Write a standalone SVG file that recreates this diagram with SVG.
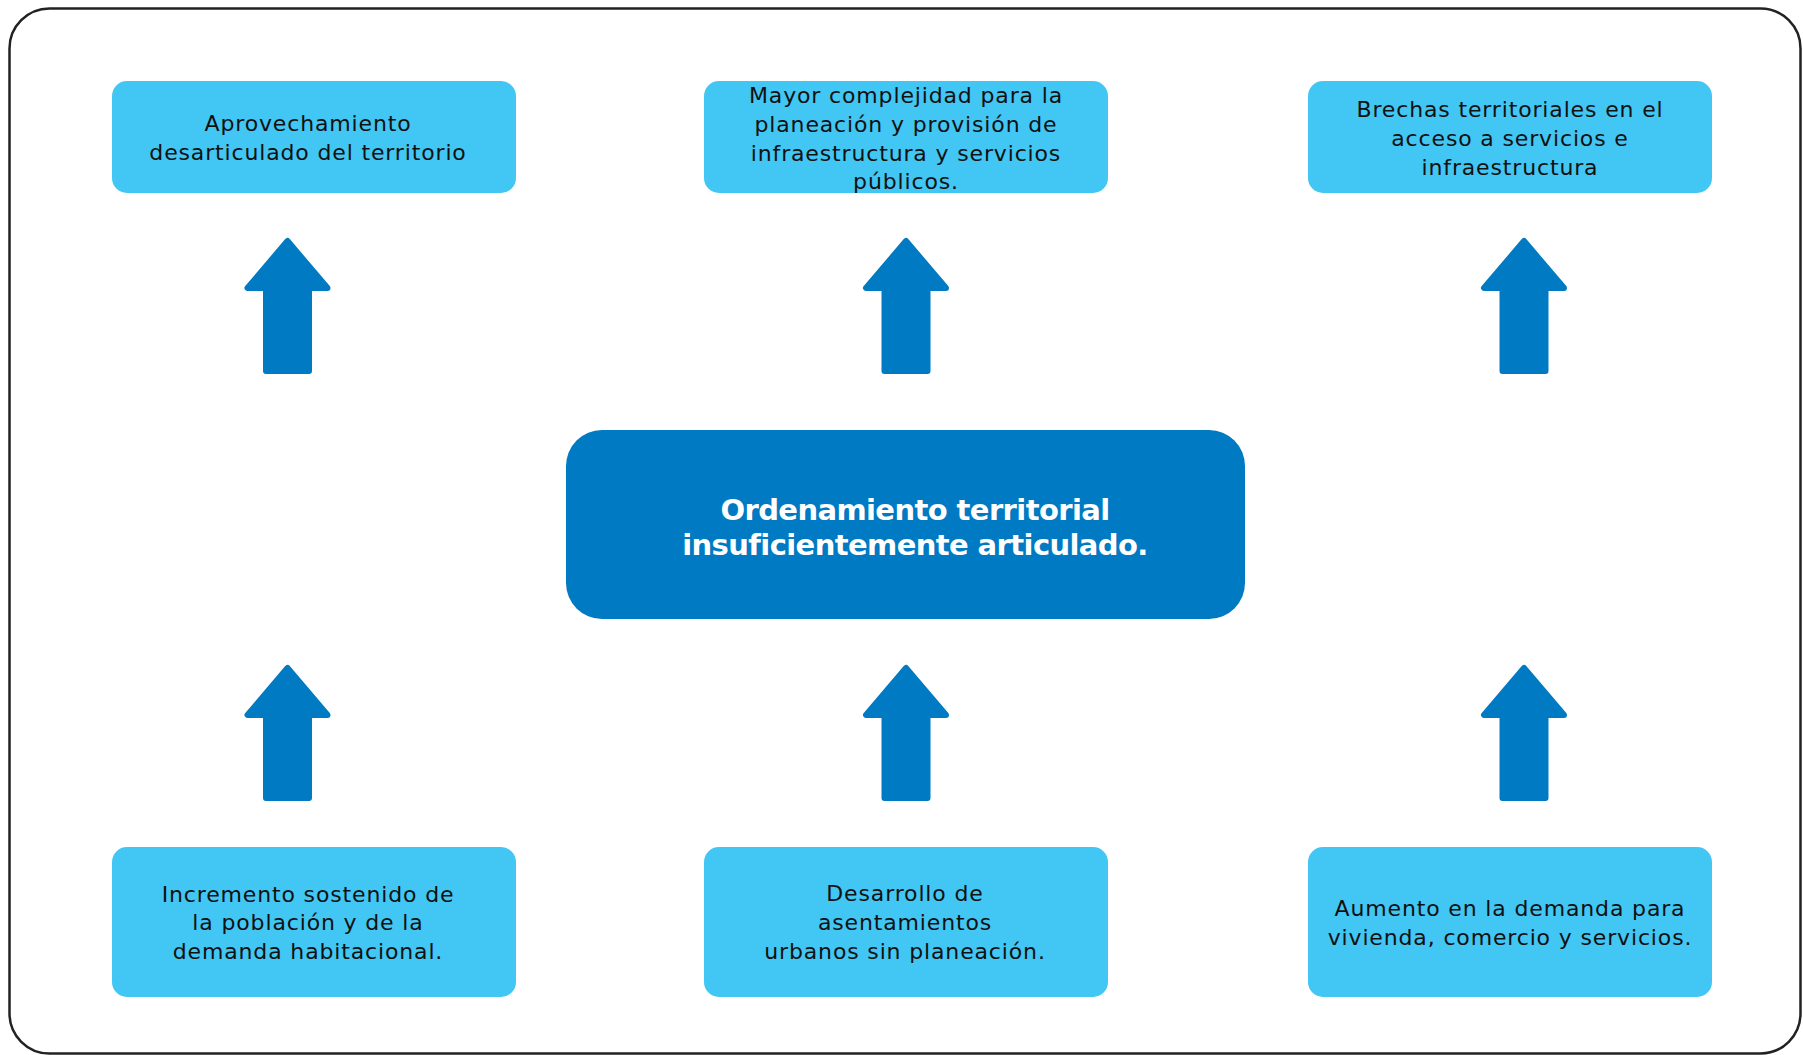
<svg xmlns="http://www.w3.org/2000/svg" xmlns:xlink="http://www.w3.org/1999/xlink" width="1803" height="1055" viewBox="0 0 1803 1055">
  <style>
    .box { fill: #42C6F3; }
    .core { fill: #007AC2; }
    .lbl { font-family: "DejaVu Sans", "Noto Sans", sans-serif; font-size: 22px; letter-spacing: 0.85px; fill: #111111; text-anchor: middle; }
    .title { font-family: "DejaVu Sans", "Noto Sans", sans-serif; font-size: 29px; font-weight: bold; letter-spacing: -0.6px; fill: #FFFFFF; text-anchor: middle; }
    .arr { fill: #007AC2; stroke: #007AC2; stroke-width: 6; stroke-linejoin: round; }
  </style>
  <defs>
    <path id="arrow" class="arr" d="M0,3 L-40,50 L-21.5,50 L-21.5,133 L21.5,133 L21.5,50 L40,50 Z"/>
  </defs>
  <rect x="0" y="0" width="1803" height="1055" fill="#FFFFFF"/>
  <rect id="frame" x="9.5" y="8.5" width="1791" height="1045" rx="40" ry="40" fill="none" stroke="#222222" stroke-width="2.5"/>

  <g id="connectors">
    <use xlink:href="#arrow" href="#arrow" transform="translate(287.5,238)"/>
    <use xlink:href="#arrow" href="#arrow" transform="translate(906,238)"/>
    <use xlink:href="#arrow" href="#arrow" transform="translate(1524,238)"/>
    <use xlink:href="#arrow" href="#arrow" transform="translate(287.5,665)"/>
    <use xlink:href="#arrow" href="#arrow" transform="translate(906,665)"/>
    <use xlink:href="#arrow" href="#arrow" transform="translate(1524,665)"/>
  </g>

  <g id="node-top-1">
    <rect class="box" x="112" y="81" width="404" height="112" rx="15"/>
    <text class="lbl" x="308" y="131">Aprovechamiento</text>
    <text class="lbl" x="308" y="160">desarticulado del territorio</text>
  </g>
  <g id="node-top-2">
    <rect class="box" x="704" y="81" width="404" height="112" rx="15"/>
    <text class="lbl" x="906" y="103">Mayor complejidad para la</text>
    <text class="lbl" x="906" y="132">planeación y provisión de</text>
    <text class="lbl" x="906" y="161">infraestructura y servicios</text>
    <text class="lbl" x="906" y="189">públicos.</text>
  </g>
  <g id="node-top-3">
    <rect class="box" x="1308" y="81" width="404" height="112" rx="15"/>
    <text class="lbl" x="1510" y="117">Brechas territoriales en el</text>
    <text class="lbl" x="1510" y="146">acceso a servicios e</text>
    <text class="lbl" x="1510" y="175">infraestructura</text>
  </g>

  <g id="node-center">
    <rect class="core" x="566" y="430" width="679" height="189" rx="36"/>
    <text class="title" x="915" y="520">Ordenamiento territorial</text>
    <text class="title" x="915" y="555">insuficientemente articulado.</text>
  </g>

  <g id="node-bottom-1">
    <rect class="box" x="112" y="847" width="404" height="150" rx="15"/>
    <text class="lbl" x="308" y="902">Incremento sostenido de</text>
    <text class="lbl" x="308" y="930">la población y de la</text>
    <text class="lbl" x="308" y="959">demanda habitacional.</text>
  </g>
  <g id="node-bottom-2">
    <rect class="box" x="704" y="847" width="404" height="150" rx="15"/>
    <text class="lbl" x="905" y="901">Desarrollo de</text>
    <text class="lbl" x="905" y="930">asentamientos</text>
    <text class="lbl" x="905" y="959">urbanos sin planeación.</text>
  </g>
  <g id="node-bottom-3">
    <rect class="box" x="1308" y="847" width="404" height="150" rx="15"/>
    <text class="lbl" x="1510" y="916">Aumento en la demanda para</text>
    <text class="lbl" x="1510" y="945">vivienda, comercio y servicios.</text>
  </g>
</svg>
